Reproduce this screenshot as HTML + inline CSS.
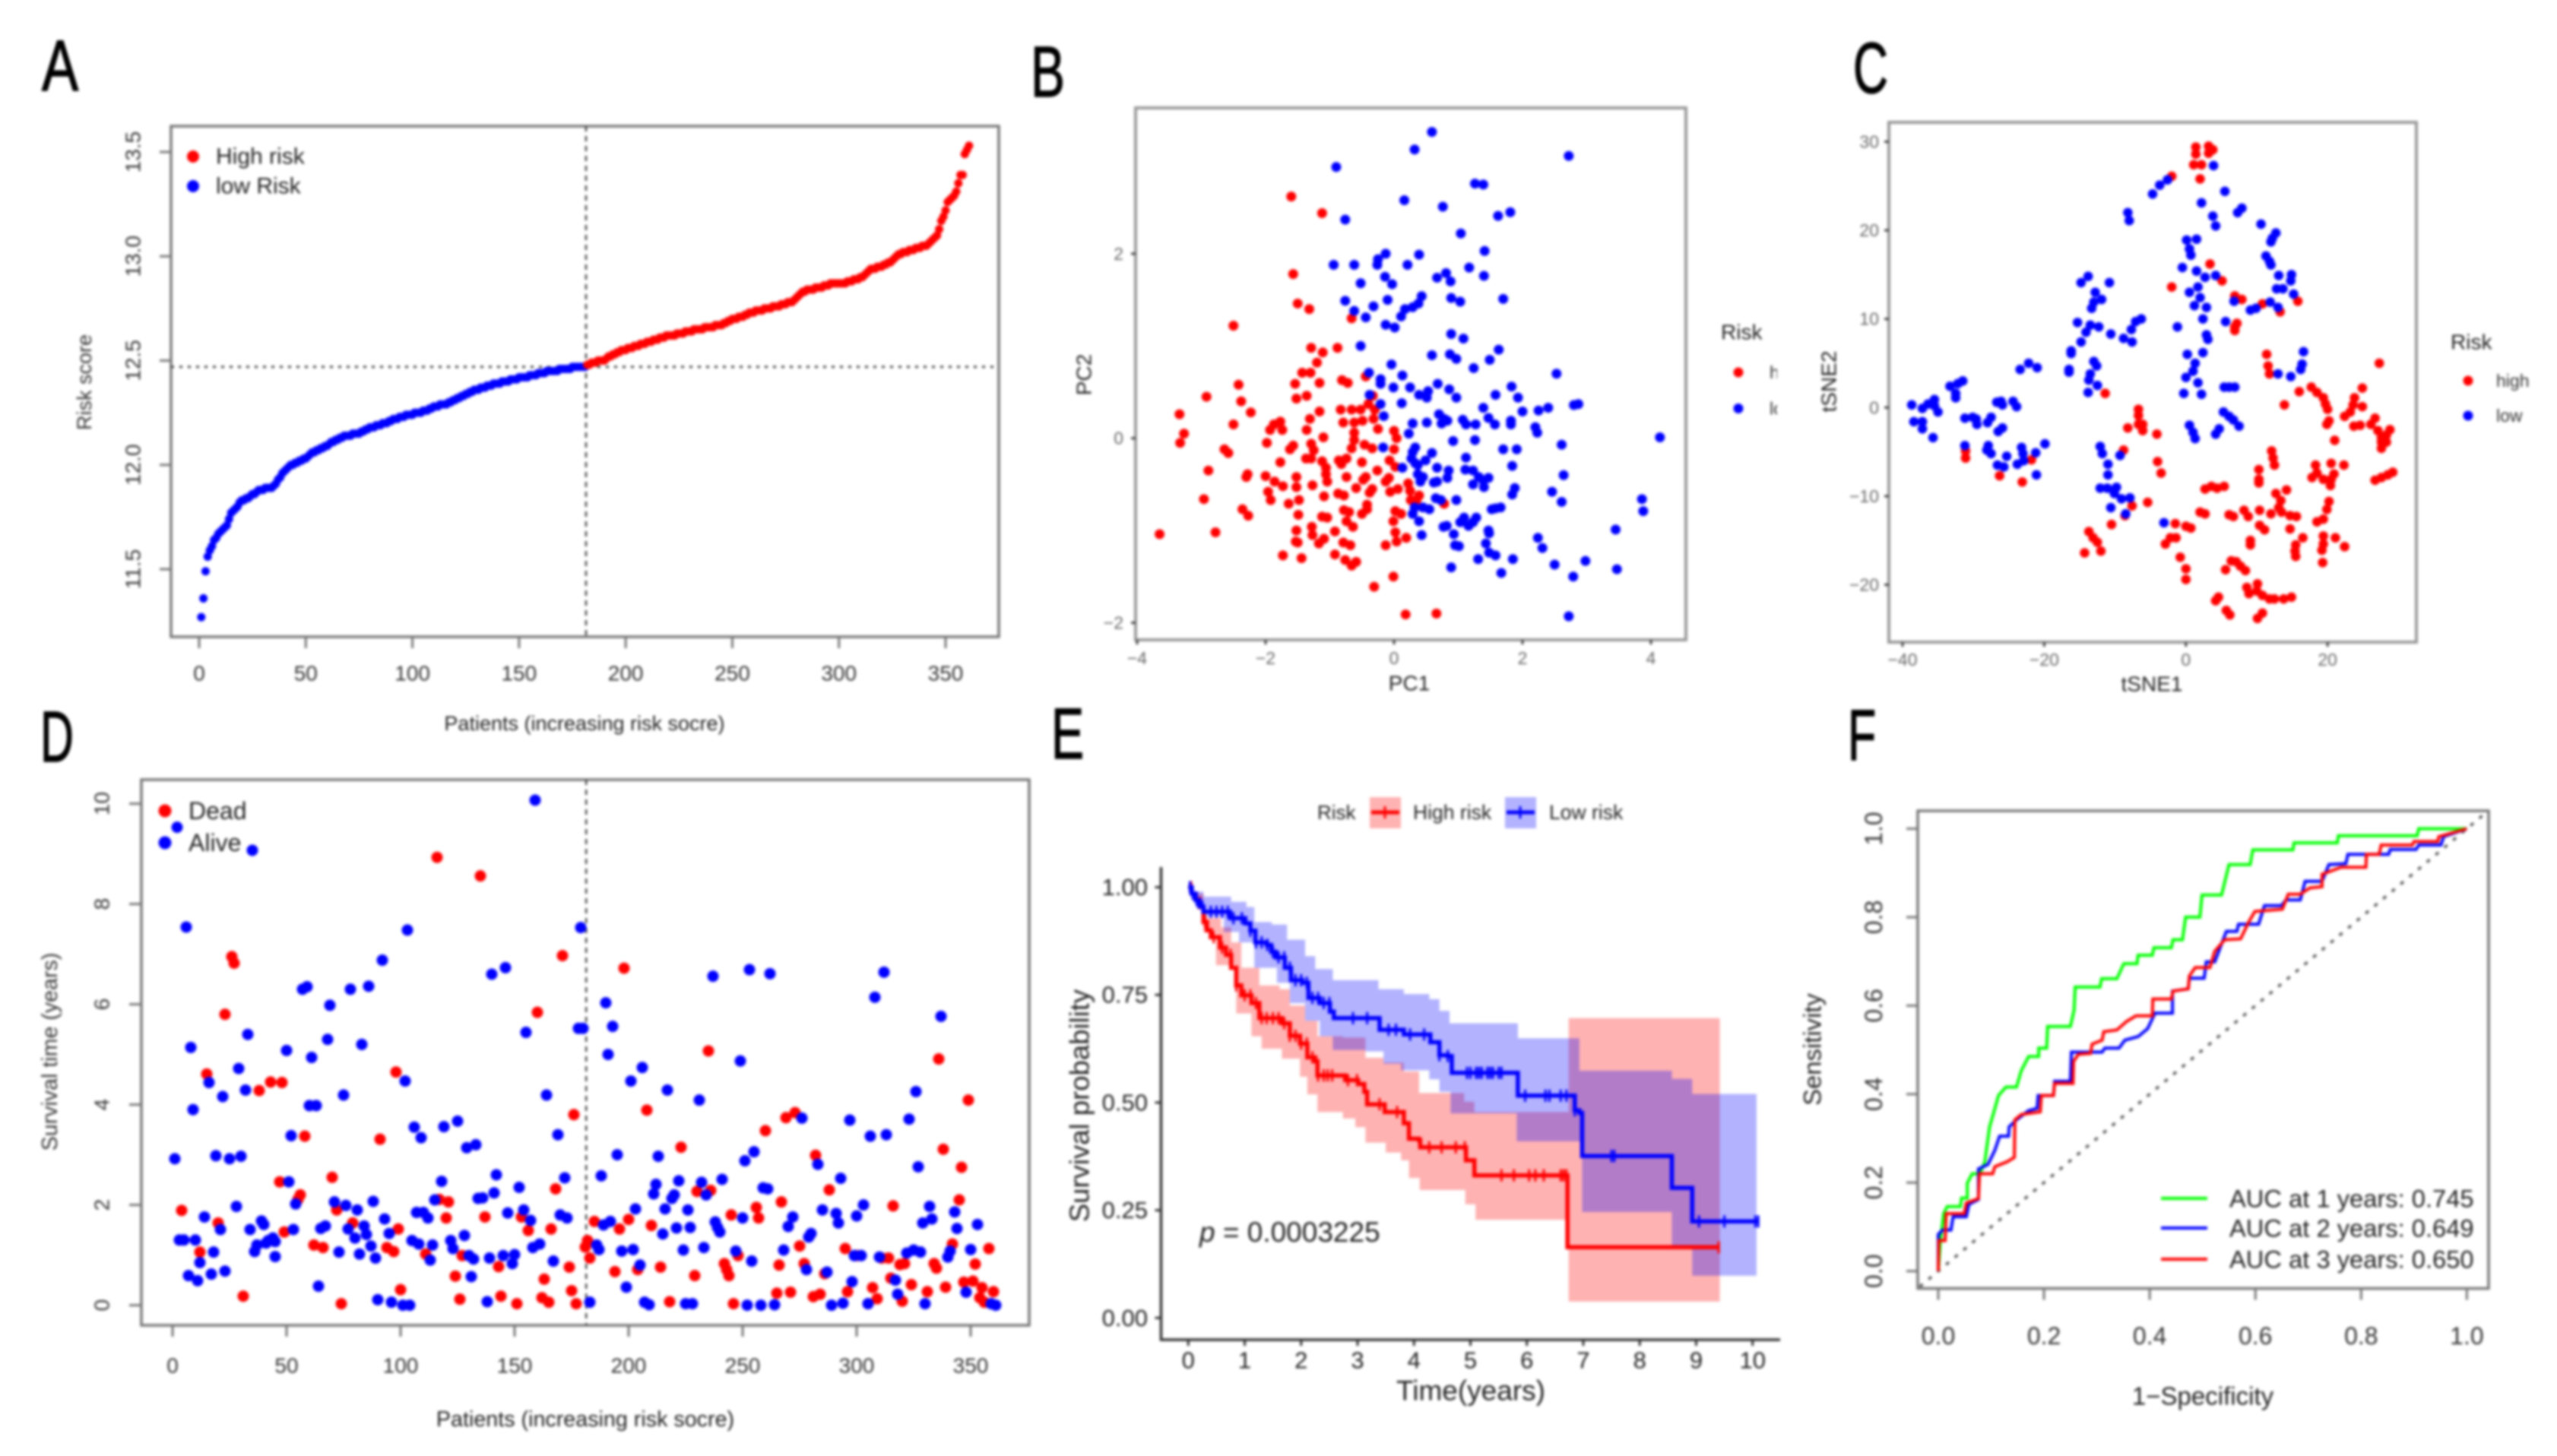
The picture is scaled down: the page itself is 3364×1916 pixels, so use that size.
<!DOCTYPE html>
<html lang="en">
<head>
<meta charset="utf-8">
<title>Risk model panels</title>
<style>
html,body{margin:0;padding:0;background:#fff;width:3364px;height:1916px;overflow:hidden}
svg{display:block;filter:blur(1.8px)}
text{font-family:"Liberation Sans",sans-serif;dominant-baseline:central}
.letter{font-size:95px;fill:#000;stroke:#000;stroke-width:1.5;dominant-baseline:auto}
</style>
</head>
<body>
<svg id="figure" xmlns="http://www.w3.org/2000/svg" width="3364" height="1916" viewBox="0 0 3364 1916">
<defs><clipPath id="legend-clip"><rect x="2250" y="400" width="88" height="180"/></clipPath></defs>
<rect width="3364" height="1916" fill="#fff"/>

<text class="letter" transform="translate(55,119) scale(.76,1)">A</text>
<text class="letter" transform="translate(1356,127) scale(.71,1)">B</text>
<text class="letter" transform="translate(2438,122) scale(.67,1)">C</text>
<text class="letter" transform="translate(53,1002) scale(.64,1)">D</text>
<text class="letter" transform="translate(1383,998) scale(.68,1)">E</text>
<text class="letter" transform="translate(2431,1000) scale(.64,1)">F</text>

<g id="panel-a">
<rect x="225" y="166" width="1089" height="672" fill="none" stroke="#777" stroke-width="3.5"/>
<text x="769" y="952" font-size="27" fill="#222" text-anchor="middle">Patients (increasing risk socre)</text>
<text transform="rotate(-90 111 503)" x="111" y="503" font-size="27" fill="#333" text-anchor="middle">Risk score</text>
<circle cx="254" cy="206" r="8" fill="#f00"/>
<circle cx="254" cy="245" r="8" fill="#00f"/>
<text x="284" y="206" font-size="30" fill="#222">High risk</text>
<text x="284" y="245" font-size="30" fill="#222">low Risk</text>
</g>

<g id="panel-b">
<rect x="1494" y="142" width="724" height="700" fill="none" stroke="#999" stroke-width="4"/>
<text x="1854" y="899" font-size="28" fill="#222" text-anchor="middle">PC1</text>
<text transform="rotate(-90 1426 493)" x="1426" y="493" font-size="28" fill="#222" text-anchor="middle">PC2</text>
<text x="2264" y="437" font-size="28" fill="#222">Risk</text>
<circle cx="2287" cy="490" r="6.5" fill="#f00"/>
<circle cx="2287" cy="537.5" r="6.5" fill="#00f"/>
<g clip-path="url(#legend-clip)">
<text x="2328" y="490" font-size="23" fill="#333">high</text>
<text x="2328" y="537.5" font-size="23" fill="#333">low</text>
</g>
</g>

<g id="panel-c">
<rect x="2485" y="161" width="694" height="684" fill="none" stroke="#999" stroke-width="4"/>
<text x="2831" y="900" font-size="28" fill="#222" text-anchor="middle">tSNE1</text>
<text transform="rotate(-90 2406 502)" x="2406" y="502" font-size="28" fill="#222" text-anchor="middle">tSNE2</text>
<text x="3224" y="450" font-size="28" fill="#222">Risk</text>
<circle cx="3247" cy="501" r="6.5" fill="#f00"/>
<circle cx="3247" cy="547" r="6.5" fill="#00f"/>
<text x="3284" y="501" font-size="23" fill="#333">high</text>
<text x="3284" y="547" font-size="23" fill="#333">low</text>
</g>

<g id="panel-d">
<rect x="186" y="1026" width="1168" height="718" fill="none" stroke="#777" stroke-width="3.5"/>
<text x="770" y="1868" font-size="28.7" fill="#222" text-anchor="middle">Patients (increasing risk socre)</text>
<text transform="rotate(-90 66 1384)" x="66" y="1384" font-size="28.6" fill="#333" text-anchor="middle">Survival time (years)</text>
<circle cx="217" cy="1067" r="8.5" fill="#f00"/>
<circle cx="217" cy="1109" r="8.5" fill="#00f"/>
<text x="248" y="1067" font-size="32" fill="#222">Dead</text>
<text x="248" y="1109" font-size="32" fill="#222">Alive</text>
</g>

<g id="panel-e">
<text x="1733" y="1069" font-size="26" fill="#222">Risk</text>
<rect x="1802" y="1049" width="41" height="41" fill="#f00" fill-opacity=".3"/>
<line x1="1804" y1="1069" x2="1841" y2="1069" stroke="#f00" stroke-width="5"/>
<line x1="1822" y1="1061" x2="1822" y2="1077" stroke="#f00" stroke-width="3"/>
<text x="1859" y="1069" font-size="26.5" fill="#222">High risk</text>
<rect x="1980" y="1049" width="41" height="41" fill="#00f" fill-opacity=".3"/>
<line x1="1982" y1="1069" x2="2019" y2="1069" stroke="#00f" stroke-width="5"/>
<line x1="2000" y1="1061" x2="2000" y2="1077" stroke="#00f" stroke-width="3"/>
<text x="2038" y="1069" font-size="26.5" fill="#222">Low risk</text>
<text x="1935" y="1830" font-size="37" fill="#222" text-anchor="middle">Time(years)</text>
<text transform="rotate(-90 1420 1455)" x="1420" y="1455" font-size="36.5" fill="#222" text-anchor="middle">Survival probability</text>
</g>

<g id="panel-f">
<rect x="2523" y="1067" width="751" height="628.5" fill="none" stroke="#777" stroke-width="3.5"/>
<text x="2898" y="1837" font-size="33" fill="#222" text-anchor="middle">1−Specificity</text>
<text transform="rotate(-90 2384 1381)" x="2384" y="1381" font-size="32.8" fill="#222" text-anchor="middle">Sensitivity</text>
<line x1="2843" y1="1577" x2="2904" y2="1577" stroke="#0f0" stroke-width="4"/>
<line x1="2843" y1="1616" x2="2904" y2="1616" stroke="#00f" stroke-width="4"/>
<line x1="2843" y1="1657" x2="2904" y2="1657" stroke="#f00" stroke-width="4"/>
<text x="2933" y="1577" font-size="32.7" fill="#222">AUC at 1 years: 0.745</text>
<text x="2933" y="1616" font-size="32.7" fill="#222">AUC at 2 years: 0.649</text>
<text x="2933" y="1657" font-size="32.7" fill="#222">AUC at 3 years: 0.650</text>
</g>
</svg>

<script>
/* ---------- Panel A ---------- */
const riskScores=[11.27,11.36,11.49,11.56,11.59,11.61,11.64,11.65,11.67,11.68,11.69,11.70,11.71,11.74,11.77,11.78,11.79,11.80,11.82,11.83,11.83,11.84,11.84,11.85,11.86,11.86,11.87,11.88,11.88,11.88,11.89,11.89,11.89,11.89,11.90,11.91,11.93,11.94,11.96,11.97,11.98,11.99,12.00,12.00,12.01,12.01,12.02,12.02,12.03,12.03,12.04,12.05,12.06,12.06,12.07,12.07,12.08,12.08,12.09,12.09,12.10,12.11,12.11,12.12,12.12,12.13,12.13,12.14,12.14,12.14,12.14,12.15,12.15,12.15,12.15,12.16,12.16,12.17,12.17,12.18,12.18,12.18,12.19,12.19,12.19,12.20,12.20,12.20,12.21,12.21,12.22,12.22,12.22,12.23,12.23,12.23,12.24,12.24,12.24,12.24,12.25,12.25,12.25,12.25,12.26,12.26,12.26,12.27,12.27,12.28,12.28,12.28,12.29,12.29,12.29,12.29,12.30,12.30,12.31,12.31,12.32,12.32,12.33,12.33,12.34,12.34,12.35,12.35,12.36,12.36,12.36,12.37,12.37,12.37,12.38,12.38,12.38,12.39,12.39,12.39,12.39,12.40,12.40,12.40,12.40,12.41,12.41,12.41,12.41,12.42,12.42,12.42,12.42,12.42,12.43,12.43,12.43,12.43,12.44,12.44,12.44,12.44,12.45,12.45,12.45,12.45,12.45,12.45,12.46,12.46,12.46,12.46,12.46,12.46,12.47,12.47,12.47,12.47,12.47,12.47,12.47,
12.48,12.48,12.49,12.49,12.49,12.50,12.50,12.50,12.50,12.51,12.52,12.52,12.53,12.53,12.54,12.54,12.55,12.55,12.55,12.56,12.56,12.56,12.57,12.57,12.57,12.58,12.58,12.58,12.59,12.59,12.59,12.60,12.60,12.60,12.61,12.61,12.61,12.62,12.62,12.62,12.62,12.62,12.63,12.63,12.63,12.63,12.64,12.64,12.64,12.64,12.65,12.65,12.65,12.65,12.65,12.66,12.66,12.66,12.66,12.66,12.67,12.67,12.67,12.67,12.68,12.68,12.69,12.69,12.70,12.70,12.70,12.71,12.71,12.71,12.72,12.72,12.73,12.73,12.73,12.74,12.74,12.74,12.74,12.75,12.75,12.75,12.75,12.76,12.76,12.76,12.76,12.77,12.77,12.77,12.78,12.78,12.78,12.79,12.80,12.81,12.82,12.83,12.83,12.84,12.84,12.84,12.84,12.85,12.85,12.85,12.85,12.86,12.86,12.86,12.87,12.87,12.87,12.87,12.87,12.87,12.87,12.87,12.88,12.88,12.88,12.89,12.89,12.89,12.90,12.90,12.91,12.92,12.93,12.94,12.94,12.94,12.95,12.95,12.95,12.96,12.96,12.97,12.97,12.98,12.99,13.00,13.01,13.01,13.02,13.02,13.02,13.03,13.03,13.03,13.04,13.04,13.04,13.05,13.05,13.05,13.06,13.07,13.08,13.09,13.10,13.13,13.17,13.19,13.22,13.26,13.27,13.28,13.29,13.31,13.35,13.39,13.39,13.49,13.51,13.53];
const riskCutPatient=181.4;
const riskCutScore=12.47;
const patientTicks=[0,50,100,150,200,250,300,350];
const riskTicks=[11.5,12,12.5,13,13.5];
const riskTickLabels=["11.5","12.0","12.5","13.0","13.5"];

/* ---------- Panel B ---------- */
const pcaLow=[[.59,3.32],[.32,3.13],[-.90,2.94],[2.72,3.06],[1.26,2.76],[1.39,2.75],[.16,2.58],[.76,2.51],[-.76,2.37],[1.81,2.45],[1.62,2.41],[1.04,2.22],[1.41,2.03],[.39,1.99],[-.13,2.00],[-.25,1.94],[-.26,1.88],[-.94,1.88],[-.62,1.88],[.21,1.88],[1.17,1.85],[1.40,1.76],[.81,1.79],[.67,1.74],[.88,1.70],[-.14,1.75],[-.03,1.67],[-.52,1.68],[.43,1.54],[.38,1.46],[.29,1.42],[.17,1.40],[.11,1.32],[.89,1.52],[1.03,1.48],[1.70,1.51],[-.10,1.50],[-.76,1.49],[-.62,1.38],[-.32,1.43],[-.44,1.31],[-.13,1.23],[.01,1.20],[.89,1.13],[1.08,1.08],[-.52,1.00],[1.63,.96],[.59,.90],[.87,.91],[.97,.86],[1.49,.85],[1.24,.76],[-.04,.80],[-.39,.71],[.13,.68],[-.21,.64],[-.21,.59],[-.01,.55],[.25,.55],[.68,.59],[.86,.53],[.53,.51],[.39,.47],[.51,.44],[.97,.44],[1.58,.47],[1.83,.56],[1.93,.44],[2.53,.70],[-.38,.47],[-.21,.37],[.12,.38],[1.39,.33],[2.0,.29],[2.25,.30],[2.40,.33],[2.80,.36],[2.87,.37],[-.16,.24],[.70,.26],[.78,.21],[.83,.19],[.74,.16],[.29,.16],[.51,.17],[1.07,.20],[1.12,.15],[1.27,.15],[1.47,.22],[1.57,.15],[1.82,.19],[1.82,.15],[2.20,.12],[2.23,.06],[.23,.05],[.92,-.03],[1.26,-.02],[2.61,-.07],[4.14,.01],[-.17,-.10],[.33,-.10],[.29,-.15],[.59,-.16],[1.70,-.12],[1.91,-.12],[.27,-.22],[.33,-.27],[.49,-.24],[1.12,-.21],[.13,-.32],[.37,-.29],[1.84,-.30],[.67,-.32],[.85,-.35],[1.11,-.34],[1.23,-.35],[.37,-.39],[.45,-.42],[.83,-.43],[.67,-.47],[.41,-.47],[2.64,-.40],[1.32,-.42],[1.47,-.43],[1.23,-.50],[1.39,-.46],[1.40,-.53],[.62,-.48],[1.88,-.54],[1.84,-.61],[2.46,-.58],[.65,-.65],[.73,-.67],[.97,-.67],[2.61,-.69],[3.86,-.66],[3.88,-.79],[.32,-.75],[.45,-.75],[.55,-.77],[.29,-.82],[.39,-.90],[1.52,-.77],[1.58,-.76],[1.66,-.75],[1.28,-.86],[1.09,-.86],[1.03,-.91],[1.16,-.95],[1.23,-.91],[.77,-.96],[.82,-.95],[1.47,-1.0],[1.48,-1.03],[.93,-1.04],[.43,-1.05],[3.45,-.99],[2.24,-1.08],[2.31,-1.19],[.95,-1.16],[1.01,-1.17],[1.43,-1.14],[1.48,-1.24],[1.58,-1.27],[1.31,-1.31],[1.85,-1.31],[2.50,-1.37],[2.98,-1.33],[.89,-1.40],[1.67,-1.46],[3.47,-1.42],[2.79,-1.50],[2.72,-1.93]];
const pcaHigh=[[-1.60,2.62],[-1.12,2.44],[-1.57,1.78],[-1.50,1.46],[-1.32,1.40],[-2.50,1.22],[-.66,1.30],[-1.29,.98],[-1.11,.93],[-.88,.98],[-1.20,.82],[-1.43,.71],[-1.30,.71],[-.44,.67],[-.81,.63],[-.72,.60],[-1.54,.59],[-1.16,.60],[-2.42,.58],[-2.92,.45],[-2.38,.40],[-1.52,.43],[-1.36,.46],[-.33,.46],[-.40,.37],[-.30,.31],[-2.23,.28],[-3.34,.26],[-.83,.31],[-.66,.31],[-.52,.31],[-1.16,.29],[-1.31,.21],[-1.77,.18],[-1.87,.15],[-2.50,.15],[-.79,.17],[-.62,.17],[-.49,.19],[-.32,.21],[-1.93,.09],[-1.74,.09],[-1.36,.09],[-.25,.10],[-3.27,.05],[-3.33,-.05],[-1.98,-.05],[-.62,.06],[-.62,-.02],[0,.08],[.04,0],[-1.10,.01],[-1.57,-.08],[-1.62,-.12],[-2.64,-.12],[-2.58,-.16],[-1.29,-.06],[-.66,-.11],[-.46,-.07],[-.34,-.11],[0,-.12],[-1.25,-.13],[-1.37,-.22],[-1.29,-.22],[-1.77,-.26],[-1.12,-.25],[-.86,-.24],[-.74,-.22],[-.50,-.26],[-.82,-.28],[-.07,-.24],[.02,-.31],[-2.89,-.35],[-1.06,-.32],[-1.06,-.39],[-.26,-.35],[-2.28,-.39],[-2.30,-.42],[-2.0,-.41],[-1.52,-.42],[-.74,-.42],[-.44,-.42],[-.48,-.45],[-1.86,-.47],[-1.04,-.47],[-.08,-.43],[-.13,-.47],[.22,-.49],[-1.73,-.52],[-1.27,-.51],[-1.52,-.53],[-.59,-.54],[-.34,-.55],[-.38,-.59],[-.06,-.58],[.06,-.55],[-1.96,-.58],[-.87,-.60],[-.78,-.62],[.25,-.57],[.26,-.67],[.39,-.62],[-1.09,-.63],[-1.92,-.67],[-2.96,-.66],[-1.48,-.67],[-.42,-.72],[.35,-.67],[-1.64,-.71],[.78,-.71],[-.78,-.78],[-.70,-.80],[-2.36,-.77],[-.42,-.77],[.02,-.79],[.11,-.82],[-.50,-.82],[-2.27,-.84],[-1.49,-.83],[-1.12,-.85],[-1.04,-.86],[-.01,-.90],[-.74,-.90],[-.64,-.96],[-1.28,-.96],[-2.78,-1.02],[-3.65,-1.04],[-1.52,-1.0],[-.92,-1.01],[.02,-1.02],[-1.27,-1.05],[-1.09,-1.09],[.19,-1.08],[-.79,-1.13],[-.68,-1.16],[-1.53,-1.12],[-1.50,-1.13],[-1.17,-1.14],[-.13,-1.16],[.04,-1.12],[-1.73,-1.27],[-1.44,-1.30],[-.92,-1.26],[-.76,-1.32],[-.66,-1.38],[-.59,-1.34],[-.01,-1.50],[-.31,-1.61],[.18,-1.91],[.66,-1.90]];
const pcaTicksX=[-4,-2,0,2,4];
const pcaTicksY=[-2,0,2];

/* ---------- Panel C ---------- */
const tsneHigh=[[1.4,29.4],[1.4,28.6],[3.2,29.5],[3.8,29.1],[3.2,28.7],[1.1,27.4],[2.2,27.4],[2.0,25.8],[-2.0,26.1],[3.4,16.2],[5.1,14.3],[-2.0,13.6],[6.9,12.6],[7.9,12.2],[10.8,11.7],[15.8,12.0],[13.3,10.8],[7.2,9.5],[6.9,9.1],[6.9,8.7],[11.4,6.0],[11.6,4.7],[11.8,3.8],[27.3,5.0],[16.0,1.8],[17.7,2.3],[18.5,1.7],[19.4,1.1],[19.7,.4],[20.0,-.2],[24.9,2.2],[23.8,1.1],[23.6,.3],[24.9,.1],[13.9,.3],[-11.4,1.6],[22.4,-1.0],[23.2,-.5],[26.7,-1.2],[20.2,-1.5],[19.9,-1.9],[23.7,-2.1],[24.6,-2.0],[26.1,-1.9],[27.1,-2.6],[28.8,-2.5],[28.3,-3.1],[27.6,-3.4],[21.0,-3.7],[27.6,-3.9],[28.3,-3.9],[27.6,-4.6],[-6.7,-.2],[-6.7,-.9],[-8.2,-2.3],[-6.7,-1.9],[-6.1,-1.9],[-6.1,-2.6],[-4.1,-3.0],[-8.8,-4.8],[12.1,-4.9],[12.3,-5.7],[12.5,-6.5],[-4.0,-6.1],[-3.5,-7.4],[18.3,-6.5],[20.5,-6.3],[22.3,-6.5],[10.3,-7.0],[10.3,-8.1],[10.3,-8.5],[17.8,-7.9],[18.5,-7.4],[20.9,-7.5],[19.4,-8.1],[20.5,-8.1],[20.4,-8.8],[26.7,-8.2],[27.6,-7.9],[28.5,-7.6],[29.2,-7.3],[2.7,-9.2],[3.6,-8.9],[4.4,-9.1],[5.4,-8.9],[12.7,-9.7],[14.2,-9.3],[13.4,-10.5],[13.1,-11.3],[20.2,-10.6],[19.9,-11.5],[19.4,-12.6],[18.5,-12.9],[-5.4,-10.7],[-7.6,-11.1],[-8.6,-12.2],[-10.5,-13.2],[2.0,-11.8],[2.7,-12.0],[6.1,-12.1],[6.7,-12.3],[8.2,-11.6],[8.8,-12.3],[10.4,-11.6],[12.0,-12.0],[13.5,-11.8],[14.7,-12.2],[15.6,-12.3],[10.4,-13.3],[11.1,-13.8],[14.7,-13.7],[16.5,-14.7],[19.4,-14.5],[21.1,-14.7],[-1.5,-13.1],[0,-13.4],[.7,-13.6],[-13.7,-14.0],[-13.1,-14.7],[-12.5,-15.2],[-12.0,-16.2],[-14.3,-16.4],[-2.2,-14.7],[-1.4,-14.7],[-2.9,-15.4],[9.1,-15.0],[9.1,-15.5],[15.5,-15.5],[15.4,-16.2],[15.5,-16.8],[19.4,-15.4],[19.2,-16.1],[22.4,-15.7],[19.3,-17.5],[-.8,-16.9],[0,-18.2],[0,-19.4],[6.4,-17.3],[7.1,-17.4],[7.7,-17.9],[8.4,-18.4],[5.6,-18.3],[8.6,-20.3],[10.1,-19.9],[8.9,-21.0],[10.0,-20.7],[10.8,-21.2],[11.8,-21.6],[12.5,-21.6],[13.8,-21.6],[14.9,-21.4],[4.6,-21.4],[4.2,-21.8],[5.7,-22.9],[6.2,-23.4],[10.8,-23.2],[10.1,-23.8],[-31.1,-4.9],[-31.1,-5.7],[-21.8,-5.9],[-26.3,-7.7],[-23.1,-8.4]];
const tsneLow=[[3.9,27.3],[-2.6,25.7],[-3.7,25.1],[-4.7,24.1],[5.5,24.4],[2.2,23.1],[7.9,22.5],[7.3,22.0],[3.8,21.6],[-8.2,22.0],[-8.0,21.1],[4.2,20.5],[10.6,20.7],[12.7,19.7],[12.2,19.1],[12.0,18.7],[.1,18.9],[1.5,19.0],[.5,17.9],[.7,17.2],[11.3,17.1],[11.8,16.5],[12.0,16.1],[-.5,15.8],[1.5,15.4],[2.7,14.7],[4.2,14.9],[13.1,14.9],[14.9,15.0],[14.8,14.3],[-13.8,14.8],[-14.8,14.1],[-10.8,14.1],[-12.8,13.0],[-11.9,12.2],[-13.0,11.9],[-13.3,11.2],[1.7,13.6],[.5,13.0],[2.0,12.4],[1.2,11.5],[2.9,11.3],[12.8,13.4],[13.7,13.4],[15.2,12.8],[6.8,12.0],[11.9,11.9],[13.0,11.3],[9.1,11.0],[9.9,11.2],[2.4,10.0],[-1.2,9.1],[5.6,9.7],[-15.3,9.6],[-13.5,9.3],[-12.3,9.1],[-14.1,8.5],[-10.6,8.3],[-6.3,10.0],[-7.1,9.7],[-7.7,8.8],[-8.8,7.8],[-7.6,7.4],[2.9,8.2],[3.1,7.7],[-14.8,7.4],[-16.2,6.4],[-16.2,6.1],[.2,6.0],[2.4,6.2],[16.6,6.3],[1.3,5.0],[-13.0,5.2],[-12.6,4.7],[16.4,4.9],[16.2,4.3],[0,3.4],[1.0,4.1],[13.0,3.8],[14.8,3.5],[-13.5,3.8],[-16.5,4.3],[-16.5,4.0],[-13.7,3.1],[1.7,2.8],[-12.5,2.5],[-13.8,1.7],[-.3,1.6],[2.2,1.5],[5.4,2.3],[6.1,2.3],[6.9,2.3],[-23.4,4.3],[-22.2,5.0],[-21.0,4.5],[-31.5,3.0],[-32.2,2.7],[-33.3,2.4],[-32.5,1.6],[-32.5,1.1],[-35.5,.9],[-38.7,.3],[-37.2,-.1],[-36.4,.4],[-35.5,.2],[-35.0,-.5],[-26.7,.6],[-26.1,.7],[-25.9,.3],[-24.4,.7],[-23.9,.1],[-38.4,-1.6],[-37.2,-1.6],[-37.2,-2.4],[-35.7,-3.4],[-31.2,-1.2],[-30.1,-1.1],[-29.6,-1.3],[-29.5,-1.9],[-27.5,-1.1],[-28.0,-1.7],[-25.9,-2.3],[-26.5,-2.7],[5.3,-.5],[6.1,-1.0],[6.7,-1.4],[7.5,-2.1],[.5,-2.0],[1.0,-2.8],[1.3,-3.5],[4.7,-2.4],[4.2,-3.0],[-31.2,-4.3],[-27.9,-4.3],[-28.1,-4.8],[-27.5,-5.2],[-23.2,-4.5],[-23.0,-5.2],[-19.9,-4.1],[-21.2,-5.1],[-25.3,-5.5],[-26.6,-6.5],[-25.7,-6.7],[-23.8,-6.4],[-22.9,-6.0],[-21.1,-7.6],[-12.1,-4.4],[-11.8,-5.2],[-11.0,-6.4],[-11.0,-7.6],[-12.1,-9.1],[-11.1,-9.1],[-9.8,-9.0],[-10.1,-9.7],[-9.1,-10.3],[-7.9,-10.2],[-10.6,-11.3],[-8.5,-12.0],[-3.1,-13.0],[-9.3,-5.4]];
const tsneTicksX=[-40,-20,0,20];
const tsneTicksY=[-20,-10,0,10,20,30];

/* ---------- Panel D ---------- */
const deadPatients=[[4,1.89],[15,4.61],[12,1.06],[20,1.64],[23,5.80],[26,6.95],[27,6.82],[31,.18],[38,4.28],[43,4.45],[48,4.44],[47,2.46],[49,1.46],[55,2.11],[56,2.20],[58,3.37],[62,1.20],[66,1.15],[70,2.55],[72,1.90],[74,.03],[79,1.64],[91,3.31],[94,1.15],[97,1.07],[98,4.65],[99,1.52],[100,.31],[111,1.02],[116,8.93],[117,2.11],[121,2.06],[120,1.74],[124,.58],[126,.12],[127,.99],[135,8.56],[137,1.76],[143,.77],[144,.18],[151,.03],[153,1.76],[156,1.49],[160,5.84],[162,.15],[163,.52],[165,.06],[166,1.52],[168,2.32],[171,6.97],[174,.76],[175,.29],[176,3.80],[177,.03],[181,1.16],[182,1.29],[183,.94],[185,1.67],[194,.67],[196,1.52],[198,6.72],[200,1.71],[204,.71],[208,3.89],[210,1.59],[214,.76],[218,.07],[223,3.15],[229,.59],[230,2.27],[235,5.07],[236,2.29],[242,.83],[243,.71],[244,.59],[245,1.80],[246,.03],[248,.99],[256,1.95],[257,1.74],[260,3.48],[265,.24],[266,.80],[267,2.06],[269,3.74],[271,.26],[273,3.84],[275,1.18],[277,.83],[281,.17],[282,2.99],[284,.22],[286,.63],[288,2.30],[295,1.13],[296,.27],[300,.99],[305,.03],[307,.35],[309,.13],[311,.94],[314,.94],[316,1.98],[315,.54],[319,.81],[321,.83],[320,.08],[324,.41],[331,.27],[334,.83],[335,.74],[336,4.91],[338,3.11],[339,.36],[342,1.22],[345,2.10],[346,2.75],[347,.46],[349,4.09],[351,.48],[352,.82],[354,.15],[355,.35],[356,.06],[358,1.13],[360,.27]];
const alivePatients=[[1,2.92],[2,9.53],[3,1.30],[5,1.30],[6,7.54],[7,.59],[8,5.14],[9,3.90],[10,1.30],[11,.49],[12,.85],[14,1.76],[16,4.44],[17,.62],[18,1.06],[19,2.98],[21,1.51],[22,4.16],[23,.68],[25,2.92],[28,1.97],[30,2.97],[29,4.72],[32,4.29],[33,5.40],[34,1.51],[35,9.07],[36,1.07],[37,1.20],[39,1.68],[40,1.61],[41,1.24],[42,1.29],[44,1.34],[45,1.27],[45,.97],[50,5.08],[51,2.46],[52,3.38],[53,1.51],[54,2.02],[57,6.30],[59,6.35],[61,4.94],[60,3.98],[63,3.98],[64,.38],[65,1.53],[67,1.58],[68,5.30],[69,5.98],[71,2.06],[73,1.06],[75,4.19],[76,1.99],[77,1.52],[78,6.30],[80,1.34],[81,1.90],[82,1.02],[83,5.20],[84,1.58],[85,1.41],[86,6.36],[87,1.18],[88,2.07],[89,.94],[90,.11],[92,6.88],[93,1.72],[95,1.43],[96,.06],[101,0],[102,4.47],[103,7.48],[104,0],[105,1.29],[106,3.55],[108,1.22],[109,3.34],[107,1.85],[110,1.85],[112,1.74],[113,.90],[114,1.20],[115,2.10],[118,2.47],[119,3.56],[122,1.29],[123,1.13],[125,3.67],[128,1.39],[129,3.14],[130,.99],[131,.57],[132,.92],[133,3.20],[134,2.13],[136,2.14],[138,.07],[139,.94],[140,6.60],[141,2.24],[142,2.60],[145,.99],[146,6.73],[147,1.84],[149,.83],[150,1.01],[152,2.35],[154,1.90],[155,5.44],[157,1.69],[158,1.15],[161,1.22],[159,10.07],[164,4.19],[167,.88],[169,3.40],[170,1.80],[172,2.54],[173,1.74],[178,5.52],[180,5.52],[179,7.53],[183,.06],[186,1.20],[187,1.11],[188,2.58],[189,1.60],[190,6.03],[191,5.0],[192,1.67],[193,5.56],[195,3.0],[197,1.08],[199,.36],[201,4.47],[202,1.11],[203,1.92],[205,.80],[206,4.74],[207,.06],[209,.01],[211,2.22],[212,2.41],[213,2.97],[215,1.42],[216,1.92],[217,4.29],[219,2.13],[220,2.20],[221,1.54],[222,2.48],[224,1.10],[225,.03],[226,1.90],[227,1.55],[228,.03],[231,4.09],[232,2.45],[233,1.15],[234,2.20],[237,6.56],[238,1.66],[239,1.55],[240,1.46],[241,2.51],[247,1.08],[250,1.74],[251,2.88],[252,0],[253,6.69],[254,.88],[255,3.06],[249,4.87],[258,0],[259,2.34],[261,2.32],[262,6.61],[264,.01],[268,1.10],[270,1.57],[272,1.76],[276,3.73],[278,.71],[279,1.36],[280,1.43],[283,2.81],[285,1.90],[287,.66],[289,0],[291,1.83],[292,1.64],[293,2.53],[294,.04],[297,3.69],[298,.47],[299,.99],[300,1.78],[302,.99],[303,2.0],[305,.03],[306,3.37],[308,6.14],[310,.96],[312,6.64],[313,3.40],[317,.50],[318,.22],[322,1.04],[323,3.71],[325,1.10],[326,4.26],[327,2.76],[328,1.06],[329,1.64],[330,.03],[332,1.97],[333,1.72],[337,5.76],[340,.96],[341,1.08],[343,1.86],[344,1.53],[348,.26],[350,1.11],[353,1.61],[359,.03],[361,0]];
const survivalTicks=[0,2,4,6,8,10];

/* ---------- Panel E ---------- */
const highCurve=[[0,1],[.06,.985],[.13,.972],[.20,.954],[.27,.919],[.33,.90],[.40,.884],[.56,.860],[.67,.843],[.76,.813],[.85,.772],[.94,.749],[1.12,.731],[1.26,.696],[1.66,.684],[1.80,.655],[1.98,.637],[2.11,.605],[2.25,.596],[2.29,.563],[2.65,.563],[2.78,.552],[3.01,.543],[3.12,.525],[3.17,.496],[3.48,.478],[3.82,.452],[3.91,.416],[4.09,.413],[4.11,.396],[4.92,.366],[5.07,.331],[6.72,.164],[9.42,.164]];
const lowCurve=[[0,1],[.06,.985],[.13,.97],[.20,.955],[.27,.943],[.67,.943],[.74,.928],[1.01,.916],[1.10,.899],[1.19,.872],[1.39,.866],[1.47,.85],[1.55,.837],[1.71,.813],[1.82,.784],[2.02,.778],[2.13,.743],[2.33,.731],[2.51,.711],[2.58,.696],[3.28,.696],[3.39,.669],[3.82,.658],[4.29,.640],[4.45,.610],[4.60,.608],[4.67,.569],[5.84,.516],[6.85,.482],[6.93,.476],[6.98,.376],[8.57,.302],[8.93,.224],[10.11,.224]];
const highUpper=[[0,1],[.1,.985],[.27,.928],[.58,.907],[.76,.872],[.94,.813],[1.26,.772],[1.62,.763],[1.80,.725],[2.07,.690],[2.29,.654],[2.74,.651],[3.14,.604],[3.46,.593],[3.82,.572],[4.09,.522],[4.89,.502],[5.07,.478],[6.74,.696],[9.42,.696]];
const highLower=[[0,1],[.1,.97],[.27,.896],[.49,.819],[.85,.707],[1.12,.654],[1.30,.625],[1.66,.602],[1.98,.560],[2.11,.519],[2.29,.478],[2.74,.463],[2.96,.443],[3.14,.407],[3.50,.384],[3.77,.366],[3.91,.325],[4.10,.297],[4.91,.264],[5.09,.228],[6.74,.038],[9.42,.038]];
const lowUpper=[[0,1],[.1,.99],[.27,.978],[.76,.966],[1.03,.954],[1.17,.919],[1.48,.913],[1.75,.878],[2.07,.840],[2.25,.810],[2.56,.784],[3.37,.763],[3.82,.752],[4.27,.740],[4.45,.713],[4.63,.684],[5.84,.649],[6.93,.574],[8.57,.555],[8.93,.520],[10.07,.520]];
const lowLower=[[0,1],[.1,.97],[.27,.931],[.63,.896],[.90,.872],[1.17,.813],[1.57,.778],[1.80,.731],[2.07,.690],[2.33,.654],[2.56,.622],[3.14,.619],[3.46,.590],[3.77,.575],[4.27,.554],[4.45,.525],[4.65,.475],[5.82,.410],[6.98,.246],[8.57,.164],[8.93,.098],[10.07,.098]];
const highCensorTimes=[.05,.15,.3,.45,.6,.75,.85,1.0,1.1,1.2,1.3,1.39,1.5,1.6,1.7,1.8,1.9,2.0,2.1,2.2,2.3,2.4,2.47,2.55,2.83,2.99,3.39,3.7,4.27,4.49,4.74,4.9,5.55,5.77,6.04,6.15,6.3,6.6,6.65,6.7,9.4];
const lowCensorTimes=[.03,.08,.15,.25,.4,.5,.6,.7,.8,.95,1.1,1.2,1.3,1.4,1.5,1.6,1.7,1.8,1.9,2,2.1,2.2,2.3,2.4,2.5,2.92,3.17,3.55,3.68,3.93,4.18,4.45,4.6,4.94,5.0,5.1,5.15,5.2,5.3,5.35,5.4,5.5,5.55,5.97,6.33,6.4,6.6,6.7,6.85,7.5,7.55,9.05,9.5,10.05,10.1];
const timeTicks=[0,1,2,3,4,5,6,7,8,9,10];
const probTicks=[0,.25,.5,.75,1];
const probTickLabels=["0.00","0.25","0.50","0.75","1.00"];
const logRankLabel="0.0003225";

/* ---------- Panel F ---------- */
const rocYear1=[[0,0],[.004,.067],[.01,.13],[.017,.146],[.042,.146],[.044,.165],[.055,.165],[.055,.199],[.064,.22],[.079,.22],[.088,.247],[.097,.326],[.106,.363],[.114,.397],[.128,.416],[.148,.416],[.157,.453],[.171,.485],[.19,.485],[.19,.504],[.205,.504],[.207,.553],[.25,.553],[.257,.59],[.259,.642],[.306,.642],[.309,.661],[.338,.661],[.351,.695],[.376,.695],[.378,.714],[.405,.714],[.408,.731],[.441,.731],[.444,.749],[.462,.749],[.468,.8],[.495,.8],[.499,.85],[.536,.85],[.55,.919],[.59,.919],[.595,.952],[.671,.952],[.673,.968],[.755,.968],[.757,.984],[.906,.984],[.909,1],[1,1]];
const rocYear2=[[0,0],[0,.083],[.008,.093],[.024,.093],[.028,.123],[.053,.123],[.058,.151],[.076,.162],[.076,.231],[.094,.241],[.107,.273],[.116,.305],[.133,.305],[.134,.326],[.148,.342],[.171,.363],[.187,.368],[.189,.397],[.218,.397],[.22,.429],[.25,.429],[.252,.495],[.31,.495],[.315,.504],[.342,.504],[.353,.522],[.378,.53],[.396,.548],[.41,.583],[.443,.583],[.443,.633],[.473,.638],[.475,.662],[.503,.662],[.507,.699],[.523,.699],[.545,.768],[.565,.768],[.568,.784],[.606,.784],[.617,.826],[.649,.826],[.658,.839],[.685,.839],[.694,.881],[.726,.881],[.739,.919],[.771,.921],[.775,.942],[.852,.942],[.855,.953],[.904,.953],[.909,.963],[.951,.963],[.956,.982],[1,1]];
const rocYear3=[[0,0],[.001,.069],[.013,.069],[.015,.13],[.049,.13],[.053,.154],[.076,.164],[.078,.22],[.103,.22],[.107,.236],[.13,.247],[.144,.257],[.145,.342],[.157,.354],[.193,.36],[.195,.397],[.218,.397],[.22,.424],[.255,.424],[.256,.474],[.265,.49],[.288,.492],[.291,.513],[.31,.522],[.313,.541],[.338,.545],[.356,.564],[.374,.577],[.405,.577],[.406,.615],[.441,.615],[.444,.633],[.473,.638],[.475,.667],[.486,.686],[.514,.686],[.523,.723],[.542,.749],[.572,.751],[.586,.786],[.599,.813],[.651,.818],[.662,.852],[.685,.852],[.703,.866],[.726,.869],[.726,.897],[.762,.913],[.809,.913],[.81,.942],[.834,.942],[.838,.963],[.897,.963],[.9,.971],[.945,.971],[.947,.982],[1,1]];
const rocDiagonal=[-.035,1.035];
const rocTicks=[0,.2,.4,.6,.8,1];
const rocTickLabels=["0.0","0.2","0.4","0.6","0.8","1.0"];

/* ---------- Axis functions ---------- */
function linear(d0,d1,r0,r1){return v=>r0+(v-d0)*(r1-r0)/(d1-d0);}
const xA=linear(0,350,262,1244), yA=linear(11.5,13.5,749,200);
const xB=linear(-4,4,1496,2172), yB=linear(-2,2,819.5,333.9);
const xC=linear(-40,20,2503,3062.2), yC=linear(-20,30,769.5,186.5);
const xD=linear(0,350,227,1277), yD=linear(0,10,1717.6,1057.6);
const xE=linear(0,10,1563.3,2305.7), yE=linear(0,1,1734.3,1167.5);
const xF=linear(0,1,2550,3245.4), yF=linear(0,1,1672.7,1090.5);

const NS="http://www.w3.org/2000/svg";
function make(tag,attrs,parent){
  const e=document.createElementNS(NS,tag);
  for(const k in attrs)e.setAttribute(k,attrs[k]);
  parent.appendChild(e);
  return e;
}
function fmtMinus(v){return String(v).replace("-","\u2212");}

function drawXAxis(p,ticks,labels,xf,y0,len,labelY,size,tickColor,textColor,name){
  ticks.forEach((v,i)=>{
    const tick=make('line',{x1:xf(v),x2:xf(v),y1:y0,y2:y0+len,stroke:tickColor,'stroke-width':3},p);
    
    
    const lab=make('text',{x:xf(v),y:labelY,'font-size':size,fill:textColor,'text-anchor':'middle'},p);
    
    
    lab.textContent=labels[i];
  });
}
function drawYAxis(p,ticks,labels,yf,x0,len,labelX,size,tickColor,textColor,rotated,name){
  ticks.forEach((v,i)=>{
    const tick=make('line',{x1:x0-len,x2:x0,y1:yf(v),y2:yf(v),stroke:tickColor,'stroke-width':3},p);
    
    
    const attrs=rotated?{x:labelX,y:yf(v),'text-anchor':'middle',transform:`rotate(-90 ${labelX} ${yf(v)})`}:{x:labelX,y:yf(v),'text-anchor':'end'};
    attrs['font-size']=size;attrs.fill=textColor;
    const lab=make('text',attrs,p);
    
    
    lab.textContent=labels[i];
  });
}
function drawPoints(p,pts,xf,yf,r,fill,name){
  pts.forEach(d=>{
    const c=make('circle',{cx:xf(d[0]),cy:yf(d[1]),r:r,fill:fill},p);
    
    
  });
}
function refLine(p,x1,y1,x2,y2,dash,width,color,name){
  const l=make('line',{x1,y1,x2,y2,stroke:color,'stroke-width':width,'stroke-dasharray':dash},p);
  
  
}
function stepPoints(arr){
  const out=[];
  arr.forEach((d,i)=>{
    if(i>0)out.push([d[0],arr[i-1][1]]);
    out.push(d);
  });
  return out;
}
function pathFrom(pts,xf,yf){return pts.map(d=>xf(d[0]).toFixed(1)+','+yf(d[1]).toFixed(1)).join(' ');}
function survivalAt(curve,t){
  let s=curve[0][1];
  for(const d of curve){if(d[0]<=t)s=d[1];else break;}
  return s;
}

/* ---------- Draw A ---------- */
const gA=document.getElementById('panel-a');
refLine(gA,xA(riskCutPatient),166,xA(riskCutPatient),838,'7 6',2.5,'#444','risk-cutoff-vertical');
refLine(gA,225,yA(riskCutScore),1314,yA(riskCutScore),'4 7',3,'#444','risk-cutoff-horizontal');
riskScores.forEach((v,i)=>{
  const patient=i+1;
  const c=make('circle',{cx:xA(patient),cy:yA(v),r:5.5,fill:patient<=181?'#00f':'#f00'},gA);
  
  
});
drawXAxis(gA,patientTicks,patientTicks.map(String),xA,838,15,886,28,'#777','#333','patients');
drawYAxis(gA,riskTicks,riskTickLabels,yA,225,15,175,28,'#777','#333',true,'risk');

/* ---------- Draw B ---------- */
const gB=document.getElementById('panel-b');
drawPoints(gB,pcaHigh,xB,yB,6.5,'#f00','pca-high-point');
drawPoints(gB,pcaLow,xB,yB,6.5,'#00f','pca-low-point');
drawXAxis(gB,pcaTicksX,pcaTicksX.map(fmtMinus),xB,842,6,866,23,'#444','#666','pc1');
drawYAxis(gB,pcaTicksY,pcaTicksY.map(fmtMinus),yB,1494,6,1478,23,'#444','#666',false,'pc2');

/* ---------- Draw C ---------- */
const gC=document.getElementById('panel-c');
drawPoints(gC,tsneHigh,xC,yC,6.3,'#f00','tsne-high-point');
drawPoints(gC,tsneLow,xC,yC,6.3,'#00f','tsne-low-point');
drawXAxis(gC,tsneTicksX,tsneTicksX.map(fmtMinus),xC,845,6,868,23,'#444','#666','tsne1');
drawYAxis(gC,tsneTicksY,tsneTicksY.map(fmtMinus),yC,2485,6,2472,23,'#444','#666',false,'tsne2');

/* ---------- Draw D ---------- */
const gD=document.getElementById('panel-d');
refLine(gD,xD(riskCutPatient),1026,xD(riskCutPatient),1744,'7 6',2.5,'#444','risk-cutoff-vertical');
drawPoints(gD,deadPatients,xD,yD,7.5,'#f00','dead-point');
drawPoints(gD,alivePatients,xD,yD,7.5,'#00f','alive-point');
drawXAxis(gD,patientTicks,patientTicks.map(String),xD,1744,15,1797,28,'#777','#333','patients');
drawYAxis(gD,survivalTicks,survivalTicks.map(String),yD,186,16,134,28,'#777','#333',true,'survival-time');

/* ---------- Draw E ---------- */
const gE=document.getElementById('panel-e');
function band(upper,lower,fill,name){
  const pts=stepPoints(upper).concat(stepPoints(lower).reverse());
  const poly=make('polygon',{points:pathFrom(pts,xE,yE),fill:fill,'fill-opacity':.3},gE);
  
  
}
band(highUpper,highLower,'#f00','high-risk-confidence-band');
band(lowUpper,lowLower,'#00f','low-risk-confidence-band');
function kmCurve(curve,censor,color,name){
  const line=make('polyline',{points:pathFrom(stepPoints(curve),xE,yE),fill:'none',stroke:color,'stroke-width':5.5},gE);
  
  
  censor.forEach(t=>{
    const y=yE(survivalAt(curve,t));
    const m=make('line',{x1:xE(t),x2:xE(t),y1:y-8,y2:y+8,stroke:color,'stroke-width':3},gE);
    
    
  });
}
kmCurve(highCurve,highCensorTimes,'#f00','high-risk');
kmCurve(lowCurve,lowCensorTimes,'#00f','low-risk');
const axisLine=make('polyline',{points:'1527.5,1141 1527.5,1763 2342,1763',fill:'none',stroke:'#333','stroke-width':3.5},gE);


drawXAxis(gE,timeTicks,timeTicks.map(String),xE,1763,8,1790,31,'#333','#222','time');
drawYAxis(gE,probTicks,probTickLabels,yE,1527.5,8,1510,31,'#333','#222',false,'probability');
const pText=make('text',{x:1578,y:1621,'font-size':37,fill:'#222'},gE);


const pItalic=make('tspan',{'font-style':'italic'},pText);


pItalic.textContent='p';
const pRest=make('tspan',{},pText);


pRest.textContent=' = '+logRankLabel;

/* ---------- Draw F ---------- */
const gF=document.getElementById('panel-f');
refLine(gF,xF(rocDiagonal[0]),yF(rocDiagonal[0]),xF(rocDiagonal[1]),yF(rocDiagonal[1]),'5 10',3.5,'#555','chance-diagonal');
function rocLine(curve,color,name){
  const l=make('polyline',{points:pathFrom(curve,xF,yF),fill:'none',stroke:color,'stroke-width':4},gF);
  
  
}
rocLine(rocYear1,'#0f0','roc-curve-year-1');
rocLine(rocYear2,'#00f','roc-curve-year-2');
rocLine(rocYear3,'#f00','roc-curve-year-3');
drawXAxis(gF,rocTicks,rocTickLabels,xF,1695.5,15,1758,32,'#777','#333','specificity');
drawYAxis(gF,rocTicks,rocTickLabels,yF,2523,15,2465,32,'#777','#333',true,'sensitivity');
</script>
</body>
</html>
